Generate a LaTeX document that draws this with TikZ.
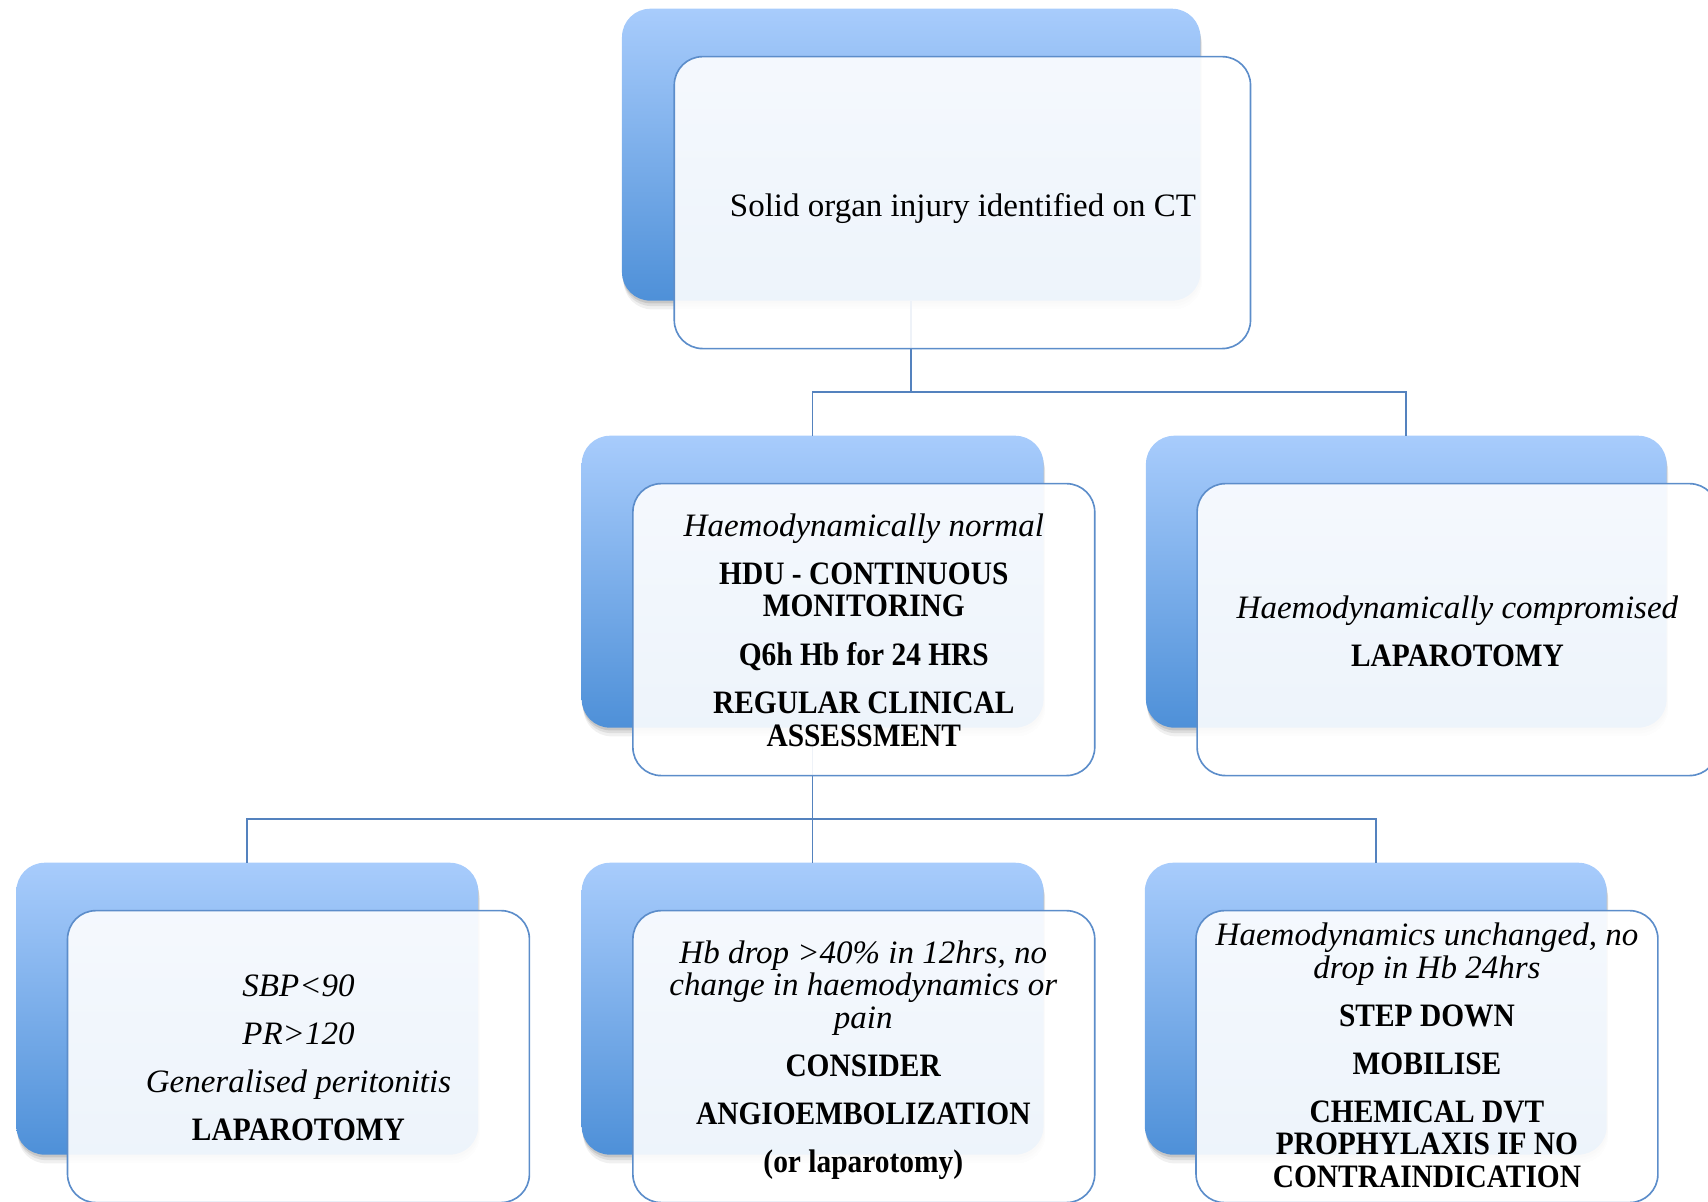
\documentclass[tikz,border=0pt]{standalone}
\usepackage{fontspec}
\setmainfont{Liberation Serif}[UprightFeatures={FakeStretch=1.01},ItalicFeatures={FakeStretch=1.01},BoldFeatures={FakeStretch=0.9}]
\definecolor{gtop}{RGB}{168,204,252}
\definecolor{gbot}{RGB}{78,144,216}
\definecolor{connc}{RGB}{84,130,190}
\definecolor{fline}{RGB}{92,141,202}
\newcommand\lnstrut{\rule[-9pt]{0pt}{30pt}}
\tikzset{
  backbox/.style={rectangle, rounded corners=26pt, minimum height=268pt, inner sep=0pt,
    top color=gtop, bottom color=gbot, draw=none,
    preaction={shade=false, draw=none, fill=black, fill opacity=0.06, transform canvas={xshift=1.5pt,yshift=-8pt}},
    preaction={shade=false, draw=none, fill=black, fill opacity=0.08, transform canvas={xshift=1pt,yshift=-5pt}},
    preaction={shade=false, draw=none, fill=black, fill opacity=0.10, transform canvas={xshift=0.5pt,yshift=-2.5pt}}},
  frontbox/.style={rectangle, rounded corners=26pt, minimum height=268pt, inner sep=0pt,
    fill=white, fill opacity=0.9, draw=fline, line width=1.5pt},
  connector/.style={draw=connc, line width=1.5pt},
  boxtext/.style={anchor=north, align=center, inner sep=0pt, text=black,
    font=\fontsize{30pt}{30pt}\selectfont},
}
\begin{document}
\begin{tikzpicture}[x=1pt,y=-1pt]
\useasboundingbox (0,0) rectangle (1568,1103);
% back boxes
\node[backbox, minimum width=531pt] (b1) at (836.5,142) {};
\node[backbox, minimum width=424pt] (b2) at (746,534) {};
\node[backbox, minimum width=478pt] (b3) at (1291,534) {};
\node[backbox, minimum width=424pt] (b4) at (227,926) {};
\node[backbox, minimum width=424pt] (b5) at (746,926) {};
\node[backbox, minimum width=424pt] (b6) at (1263,926) {};
% connectors
\coordinate (j1) at (836.5,360);
\coordinate (j2) at (746,752);
\draw[connector] (b1.south) -- (j1);
\draw[connector] (j1) -| (b2.north);
\draw[connector] (j1) -| (b3.north);
\draw[connector] (b2.south) -- (j2);
\draw[connector] (j2) -| (b4.north);
\draw[connector] (j2) -- (b5.north);
\draw[connector] (j2) -| (b6.north);
% front boxes
\node[frontbox, minimum width=529pt] (f1) at (883.5,186) {};
\node[frontbox, minimum width=424pt] (f2) at (793,578) {};
\node[frontbox, minimum width=478pt] (f3) at (1338,578) {};
\node[frontbox, minimum width=424pt] (f4) at (274,970) {};
\node[frontbox, minimum width=424pt] (f5) at (793,970) {};
\node[frontbox, minimum width=424pt] (f6) at (1310,970) {};
% texts
\node[boxtext] (t1) at (884,177) {\lnstrut Solid organ injury identified on CT};
\node[boxtext] (t2) at (793,471) {\lnstrut\textit{Haemodynamically normal}\\[14pt]
  \lnstrut\textbf{HDU - CONTINUOUS}\\ \lnstrut\textbf{MONITORING}\\[14pt]
  \lnstrut\textbf{Q6h Hb for 24 HRS}\\[14pt]
  \lnstrut\textbf{REGULAR CLINICAL}\\ \lnstrut\textbf{ASSESSMENT}};
\node[boxtext] (t3) at (1338,547) {\lnstrut\textit{Haemodynamically compromised}\\[14pt]
  \lnstrut\textbf{LAPAROTOMY}};
\node[boxtext] (t4) at (274,894) {\lnstrut\textit{SBP<90}\\[14pt]
  \lnstrut\textit{PR>120}\\[14pt]
  \lnstrut\textit{Generalised peritonitis}\\[14pt]
  \lnstrut\textbf{LAPAROTOMY}};
\node[boxtext] (t5) at (792.5,863) {\lnstrut\textit{Hb drop >40\% in 12hrs, no}\\
  \lnstrut\textit{change in haemodynamics or}\\ \lnstrut\textit{pain}\\[14pt]
  \lnstrut\textbf{CONSIDER}\\[14pt]
  \lnstrut\textbf{ANGIOEMBOLIZATION}\\[14pt]
  \lnstrut\textbf{(or laparotomy)}};
\node[boxtext] (t6) at (1310,847) {\lnstrut\textit{Haemodynamics unchanged, no}\\
  \lnstrut\textit{drop in Hb 24hrs}\\[14pt]
  \lnstrut\textbf{STEP DOWN}\\[14pt]
  \lnstrut\textbf{MOBILISE}\\[14pt]
  \lnstrut\textbf{CHEMICAL DVT}\\ \lnstrut\textbf{PROPHYLAXIS IF NO}\\
  \lnstrut\textbf{CONTRAINDICATION}};
\end{tikzpicture}
\end{document}
